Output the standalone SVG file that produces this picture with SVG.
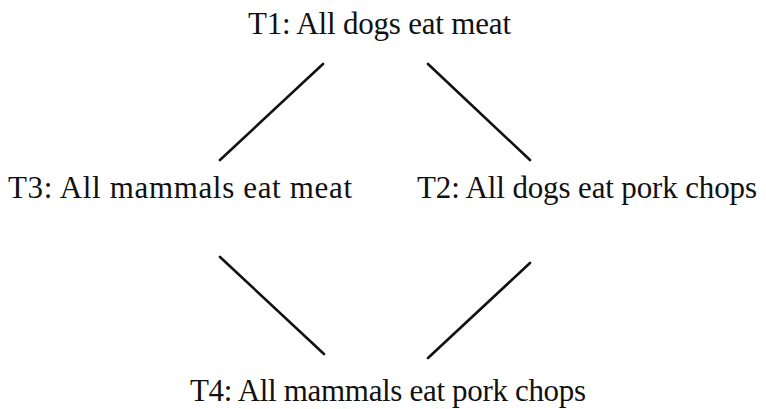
<svg xmlns="http://www.w3.org/2000/svg" width="766" height="409" viewBox="0 0 766 409">
<style>
.t{font-family:"Liberation Serif","Times New Roman",serif;font-size:31px;fill:#111}
.c line{stroke:#111;stroke-width:2.6;stroke-linecap:round}
</style>
<rect width="766" height="409" fill="#fff"/>
<g id="T1"><text class="t" x="248" y="34" textLength="263" lengthAdjust="spacing">T1: All dogs eat meat</text></g>
<g id="T3"><text class="t" x="8" y="198" textLength="344" lengthAdjust="spacing">T3: All mammals eat meat</text></g>
<g id="T2"><text class="t" x="417" y="198" textLength="340" lengthAdjust="spacing">T2: All dogs eat pork chops</text></g>
<g id="T4"><text class="t" x="190" y="401" textLength="396" lengthAdjust="spacing">T4: All mammals eat pork chops</text></g>
<g id="connectors" class="c">
<line x1="323" y1="64" x2="220" y2="160"/>
<line x1="428" y1="64" x2="530" y2="160"/>
<line x1="220" y1="257" x2="324" y2="354"/>
<line x1="530" y1="263" x2="428" y2="358"/>
</g>
</svg>
